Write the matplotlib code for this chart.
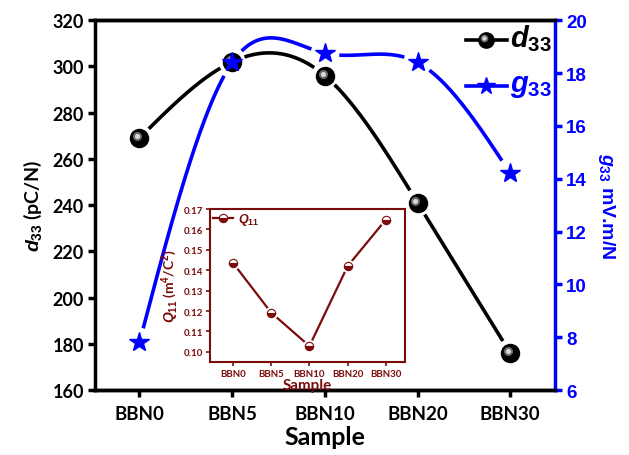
import numpy as np
import matplotlib
matplotlib.use("Agg")
import matplotlib.pyplot as plt
from matplotlib.transforms import offset_copy

samples = ["BBN0", "BBN5", "BBN10", "BBN20", "BBN30"]
d33 = [269, 302, 296, 241, 176]
g33 = [7.8, 18.4, 18.75, 18.4, 14.2]
q11 = [0.1436, 0.1192, 0.1028, 0.1420, 0.1648]

MAROON = "#7a0c0c"
BLUE = "#0000ff"

plt.rcParams["mathtext.fontset"] = "custom"
plt.rcParams["mathtext.rm"] = "Liberation Sans:bold"
plt.rcParams["mathtext.it"] = "Liberation Sans:bold:italic"
plt.rcParams["mathtext.bf"] = "Liberation Sans:bold"


def natural_spline(x, y, n=400):
    # natural cubic spline, like Origin's "Spline" connect
    x = np.asarray(x, float)
    y = np.asarray(y, float)
    m = len(x)
    h = np.diff(x)
    A = np.zeros((m, m))
    b = np.zeros(m)
    A[0, 0] = A[-1, -1] = 1
    for i in range(1, m - 1):
        A[i, i - 1] = h[i - 1]
        A[i, i] = 2 * (h[i - 1] + h[i])
        A[i, i + 1] = h[i]
        b[i] = 3 * ((y[i + 1] - y[i]) / h[i] - (y[i] - y[i - 1]) / h[i - 1])
    c = np.linalg.solve(A, b)
    xs = np.linspace(x[0], x[-1], n)
    ys = np.empty_like(xs)
    for k, xv in enumerate(xs):
        i = min(np.searchsorted(x, xv, side="right") - 1, m - 2)
        dx = xv - x[i]
        bi = (y[i + 1] - y[i]) / h[i] - h[i] * (2 * c[i] + c[i + 1]) / 3
        di = (c[i + 1] - c[i]) / (3 * h[i])
        ys[k] = y[i] + bi * dx + c[i] * dx ** 2 + di * dx ** 3
    return xs, ys


def gapped(ax, xs, ys, xp, yp, r):
    # blank the line near each marker, leaving a small gap
    pts = ax.transData.transform(np.column_stack([xs, ys]))
    mk = ax.transData.transform(np.column_stack([xp, yp]))
    ys = ys.copy()
    for p in mk:
        d = np.hypot(pts[:, 0] - p[0], pts[:, 1] - p[1])
        ys[d < r] = np.nan
    return ys


def ball(ax, x, y, size):
    # shaded black sphere
    ax.plot(x, y, "o", ms=size, mfc="black", mec="black", zorder=5, clip_on=False)
    tr = offset_copy(ax.transData, fig=ax.figure, x=-size * 0.12, y=size * 0.12, units="points")
    ax.plot(x, y, "o", ms=size * 0.5, mfc="#6a6a6a", mec="none", zorder=6,
            transform=tr, clip_on=False)
    ax.plot(x, y, "o", ms=size * 0.28, mfc="#d8d8d8", mec="none", zorder=7,
            transform=tr, clip_on=False)


fig = plt.figure(figsize=(6.29, 4.56), dpi=100)
ax = fig.add_axes([0.151, 0.1425, 0.731, 0.811])
ax2 = ax.twinx()

x = np.arange(len(samples))
ax.set_xlim(-0.48, 4.48)
ax.set_ylim(160, 320)
ax2.set_ylim(6, 20)

xs, ys = natural_spline(x, d33)
ax.plot(xs, gapped(ax, xs, ys, x, d33, 13), color="black", lw=2.6,
        solid_capstyle="butt", zorder=3)
ball(ax, x, d33, 13)

xs, ys = natural_spline(x, g33)
ax2.plot(xs, gapped(ax2, xs, ys, x, g33, 14), color=BLUE, lw=2.6,
         solid_capstyle="butt", zorder=3)
ax2.plot(x, g33, "*", ms=15, color=BLUE, zorder=8)

ax.set_xticks(x)
ax.set_xticklabels(samples, fontfamily="Lato", fontweight="bold", fontsize=13.5)
ax.set_yticks(np.arange(160, 321, 20))
for t in ax.get_yticklabels():
    t.set_fontfamily("Lato")
    t.set_fontweight("bold")
    t.set_fontsize(13)
ax.set_xlabel("Sample", fontfamily="Lato", fontweight="bold", fontsize=18, labelpad=2)
ax.set_ylabel(r"$d_{33}$ (pC/N)", fontfamily="Lato", fontweight="bold", fontsize=14, labelpad=6)

ax2.set_yticks(np.arange(6, 21, 2))
for t in ax2.get_yticklabels():
    t.set_fontfamily("Liberation Sans")
    t.set_fontweight("bold")
    t.set_fontsize(13.5)
    t.set_color(BLUE)
ax2.set_ylabel(r"$g_{33}$ mV.m/N", fontfamily="Liberation Sans", fontweight="bold",
               fontsize=14, color=BLUE, rotation=270, labelpad=22)

for s in ["left", "bottom", "top"]:
    ax.spines[s].set_linewidth(2.5)
    ax2.spines[s].set_linewidth(2.5)
ax.spines["right"].set_visible(False)
ax2.spines["right"].set_linewidth(2.5)
ax2.spines["right"].set_color(BLUE)
ax2.spines["left"].set_visible(False)
ax.tick_params(axis="both", width=2.5, length=5, direction="out", pad=3)
ax2.tick_params(axis="y", width=2.5, length=5, color=BLUE, pad=3)
ax.tick_params(axis="x", pad=6)

# legend drawn by hand to match the layout
lx = [3.52, 3.96]
ly = 311.5
ax.plot(lx, [ly, ly], color="black", lw=2.6, zorder=3)
ball(ax, [np.mean(lx)], [ly], 11)
ax.text(4.0, ly + 1, r"$\mathit{d_{33}}$", fontsize=21, va="center", ha="left")
gy = 17.5
ax2.plot(lx, [gy, gy], color=BLUE, lw=2.6, zorder=3)
ax2.plot([np.mean(lx)], [gy], "*", ms=13, color=BLUE, zorder=8)
ax2.text(4.0, gy + 0.05, r"$\mathit{g_{33}}$", fontsize=21, va="center", ha="left", color=BLUE)

# inset: Q11
ins = fig.add_axes([210 / 629, 1 - 363 / 456, 195 / 629, 153 / 456])
ins.set_xlim(-0.6, 4.5)
ins.set_ylim(0.095, 0.17)
ins.plot(x, q11, color=MAROON, lw=1.6, zorder=2)
ins.plot(x, q11, "o", ms=7, mfc="white", mec="white", mew=2.5, zorder=3)
ins.plot(x, q11, "o", ms=6, fillstyle="bottom", mfc=MAROON, mfcalt="white",
         mec=MAROON, mew=0.8, zorder=4)
ins.plot([], [], "-o", color=MAROON, lw=1.6, ms=6, fillstyle="bottom", mfc=MAROON,
         mfcalt="white", mec=MAROON, mew=0.8, label=r"$\mathit{Q_{11}}$")
ins.set_xticks(x)
ins.set_xticklabels(samples, fontsize=7, fontfamily="Lato", fontweight="bold", color=MAROON)
ins.set_yticks(np.arange(0.10, 0.171, 0.01))
ins.set_yticklabels([f"{v:.2f}" for v in np.arange(0.10, 0.171, 0.01)],
                    fontsize=7, fontfamily="Lato", fontweight="bold", color=MAROON)
ins.set_xlabel("Sample", fontsize=11, fontfamily="Lato", fontweight="bold",
               color=MAROON, labelpad=0)
ins.set_ylabel(r"$\mathit{Q_{11}}$ (m$^4$/C$^2$)", fontsize=10, fontfamily="Lato",
               fontweight="bold", color=MAROON, labelpad=2)
for s in ins.spines.values():
    s.set_color(MAROON)
    s.set_linewidth(1.5)
ins.tick_params(colors=MAROON, width=1.2, length=3, pad=2)
leg = ins.legend(loc="upper left", frameon=False, fontsize=9, handlelength=1.6,
                 borderaxespad=0.1, handletextpad=0.4, borderpad=0.1)
for t in leg.get_texts():
    t.set_color(MAROON)

fig.savefig("out.png", dpi=100)
